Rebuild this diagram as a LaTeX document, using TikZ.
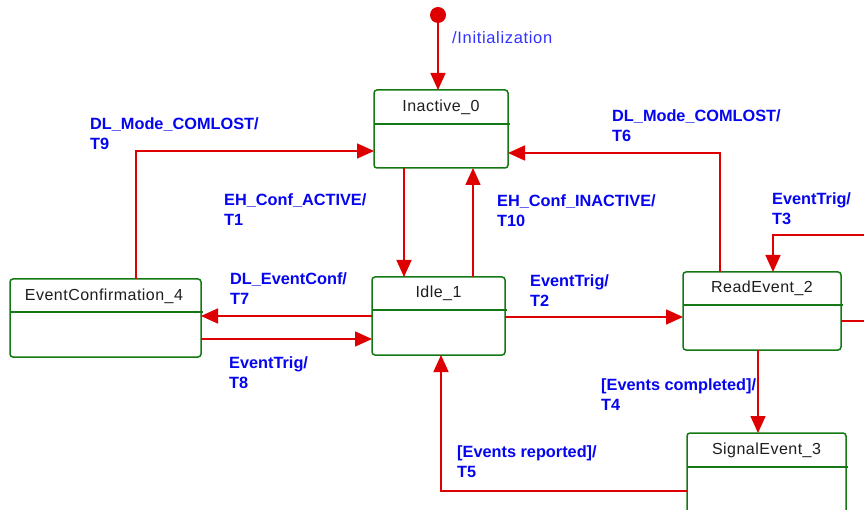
\documentclass[tikz,border=0pt]{standalone}
\usepackage{fontspec}
\setmainfont{Liberation Sans}
\newfontfamily\namefont[LetterSpace=3]{Liberation Sans}
\newfontfamily\initfont[LetterSpace=4]{Liberation Sans}
\usetikzlibrary{arrows.meta,calc}
\definecolor{stgreen}{RGB}{20,120,20}
\definecolor{trred}{RGB}{222,0,0}
\definecolor{lblblue}{RGB}{5,5,240}
\definecolor{initblue}{RGB}{50,50,255}
\definecolor{namegray}{RGB}{30,30,30}
\begin{document}
\begin{tikzpicture}[x=1pt,y=-1pt,
  state/.style={draw=stgreen, line width=1.5pt, rounded corners=3pt, rectangle, inner sep=0pt, outer sep=0pt, anchor=north west},
  divider/.style={draw=stgreen, line width=1.5pt},
  sname/.style={anchor=base, inner sep=0pt, text=namegray, font=\namefont\fontsize{16}{19}\selectfont},
  trans/.style={draw=trred, line width=1.6pt, -{Triangle[length=17pt,width=15pt]}},
  tline/.style={draw=trred, line width=1.6pt},
  lbl/.style={anchor=base west, inner sep=0pt, text=lblblue, font=\bfseries\fontsize{16.3}{20}\selectfont},
  ilbl/.style={anchor=base west, inner sep=0pt, text=initblue, font=\initfont\fontsize{16.5}{20}\selectfont}
]
\clip (0,0) rectangle (864,510);
\fill[white] (0,0) rectangle (864,510);

% states
\node[state, minimum width=134pt, minimum height=78pt] (inactive) at (374,90) {};
\node[state, minimum width=133pt, minimum height=78pt] (idle) at (372,277) {};
\node[state, minimum width=191pt, minimum height=78pt] (evconf) at (10,279) {};
\node[state, minimum width=158pt, minimum height=78pt] (readev) at (683,272) {};
\node[state, minimum width=159pt, minimum height=84pt] (sigev) at (687,433) {};

\draw[divider] ($(inactive.north west)+(0,34)$) -- ($(inactive.north east)+(2,34)$);
\draw[divider] ($(idle.north west)+(0,33)$) -- ($(idle.north east)+(2,33)$);
\draw[divider] ($(evconf.north west)+(0,33)$) -- ($(evconf.north east)+(2,33)$);
\draw[divider] ($(readev.north west)+(0,33)$) -- ($(readev.north east)+(2,33)$);
\draw[divider] ($(sigev.north west)+(0,34)$) -- ($(sigev.north east)+(2,34)$);

\node[sname] (inactive-n) at (441,112) {Inactive\_0};
\node[sname] (idle-n) at (438.5,298) {Idle\_1};
\node[sname] (evconf-n) at (104,301) {EventConfirmation\_4};
\node[sname] (readev-n) at (762,293) {ReadEvent\_2};
\node[sname] (sigev-n) at (766.5,454) {SignalEvent\_3};

% initial
\node[circle, fill=trred, minimum size=16pt, inner sep=0pt] (init) at (438,15) {};
\draw[trans] (init) -- (init |- inactive.north);
\node[ilbl] (init-l) at (452,44) {/Initialization};

% T9
\draw[trans] ($(evconf.north west)+(126,0)$) |- ($(inactive.north west)+(0,61)$);
\node[lbl] (t9-a) at (90,130) {DL\_Mode\_COMLOST/};
\node[lbl] (t9-b) at (90,150) {T9};

% T1
\coordinate (t1) at ($(inactive.south west)+(30,0)$);
\draw[trans] (t1) -- (t1 |- idle.north);
\node[lbl] (t1-a) at (224,206) {EH\_Conf\_ACTIVE/};
\node[lbl] (t1-b) at (224,226) {T1};

% T10
\coordinate (t10) at ($(idle.north west)+(101,0)$);
\draw[trans] (t10) -- (t10 |- inactive.south);
\node[lbl] (t10-a) at (497,207) {EH\_Conf\_INACTIVE/};
\node[lbl] (t10-b) at (497,227) {T10};

% T6
\coordinate (t6) at ($(readev.north west)+(37,0)$);
\draw[trans] (t6) |- ($(inactive.north east)+(0,63)$);
\node[lbl] (t6-a) at (612,122) {DL\_Mode\_COMLOST/};
\node[lbl] (t6-b) at (612,142) {T6};

% T7
\coordinate (t7) at ($(idle.north west)+(0,39)$);
\draw[trans] (t7) -- (t7 -| evconf.east);
\node[lbl] (t7-a) at (230,285) {DL\_EventConf/};
\node[lbl] (t7-b) at (230,305) {T7};

% T8
\coordinate (t8) at ($(evconf.north east)+(0,60)$);
\draw[trans] (t8) -- (t8 -| idle.west);
\node[lbl] (t8-a) at (229,368) {EventTrig/};
\node[lbl] (t8-b) at (229,388) {T8};

% T2
\coordinate (t2) at ($(idle.north east)+(0,40)$);
\draw[trans] (t2) -- (t2 -| readev.west);
\node[lbl] (t2-a) at (530,287) {EventTrig/};
\node[lbl] (t2-b) at (530,307) {T2};

% T3 (self loop, leaving the picture)
\coordinate (t3a) at ($(readev.north east)+(0,49)$);
\coordinate (t3b) at (868,321);
\coordinate (t3c) at (868,235);
\draw[tline] (t3a) -- (t3b);
\draw[trans] (t3c) -| ($(readev.north west)+(90,0)$);
\node[lbl] (t3-a) at (772,205) {EventTrig/};
\node[lbl] (t3-b) at (772,225) {T3};

% T4
\coordinate (t4) at ($(readev.south west)+(75,0)$);
\draw[trans] (t4) -- (t4 |- sigev.north);
\node[lbl] (t4-a) at (601,390) {[Events completed]/};
\node[lbl] (t4-b) at (601,410) {T4};

% T5
\coordinate (t5) at ($(sigev.north west)+(0,58)$);
\draw[trans] (t5) -| ($(idle.south west)+(69,0)$);
\node[lbl] (t5-a) at (457,457) {[Events reported]/};
\node[lbl] (t5-b) at (457,477) {T5};
\end{tikzpicture}
\end{document}
